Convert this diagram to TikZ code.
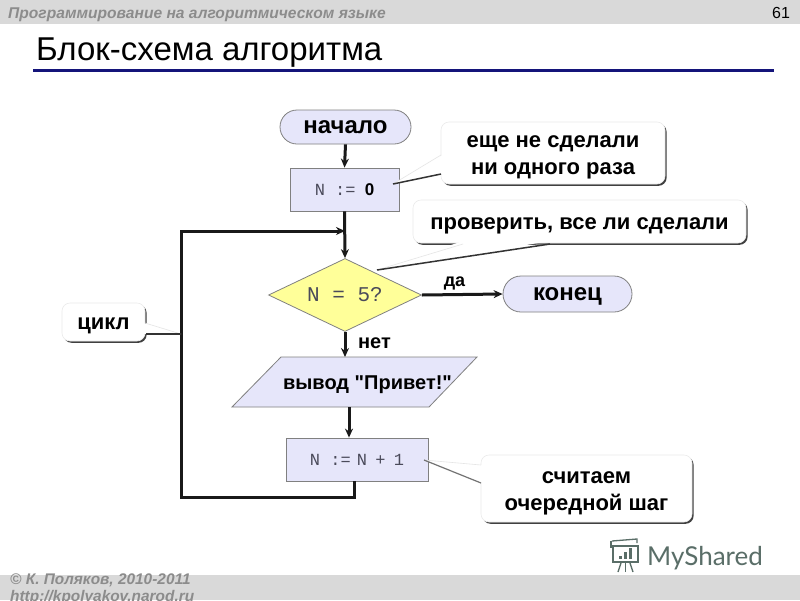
\documentclass[tikz,border=0pt]{standalone}
\usepackage{fontspec}
\setmainfont{Liberation Sans}
\newfontfamily\codefont{Liberation Mono}
\newfontfamily\logofont{Lato}
\newfontfamily\labelfont{Liberation Sans}
\usetikzlibrary{shapes.geometric,shapes.misc,shadows,arrows.meta}
\definecolor{boxfill}{HTML}{E6E6FA}
\definecolor{decfill}{HTML}{FFFF99}
\definecolor{band}{HTML}{D9D9D9}
\definecolor{bandtext}{HTML}{8C8C8C}
\definecolor{edgegray}{HTML}{808080}
\definecolor{titlerule}{HTML}{14147A}
\definecolor{codetext}{HTML}{4A4A5A}
\definecolor{logotext}{HTML}{5A6E68}
\tikzset{
  x=1pt,y=-1pt,
  lbl/.style={text=black,inner sep=0pt},
  pill/.style={rounded rectangle,draw=edgegray,line width=.8pt,fill=boxfill,inner sep=0pt,
     text height=12pt,text depth=0pt,
     font=\fontsize{24}{28}\selectfont\bfseries},
  procbox/.style={rectangle,draw=edgegray,line width=.8pt,fill=boxfill,inner sep=0pt,
     font=\codefont\fontsize{17}{20}\selectfont,text=codetext},
  decbox/.style={diamond,aspect=2.096,draw=edgegray,line width=.8pt,fill=decfill,inner sep=0pt,
     font=\codefont\fontsize{21}{24}\selectfont,text=codetext},
  notebox/.style={rectangle,rounded corners=8pt,draw=black!8,line width=.6pt,fill=white,inner sep=0pt,
     drop shadow={shadow xshift=1.6pt,shadow yshift=-1.8pt,fill=black!75,opacity=1}},
  notetext/.style={inner sep=0pt,align=center,font=\fontsize{22}{27.5}\selectfont\bfseries},
  flow/.style={line width=3pt,draw=black!90,-{Stealth[length=9pt,width=8pt]}},
  tipdark/.style={line width=1.5pt,draw=black!80},
  tiplight/.style={line width=.6pt,draw=black!10},
}
\begin{document}
\begin{tikzpicture}
\useasboundingbox (0,0) rectangle (800,600);
\clip (0,0) rectangle (800,600);
\fill[white] (0,0) rectangle (800,600);
% bands
\fill[band] (0,0) rectangle (800,24);
\fill[band] (0,575) rectangle (800,600);
\node[anchor=base west,inner sep=0pt,text=bandtext,font=\fontsize{15.6}{18}\selectfont\bfseries\itshape] (hdr) at (8,18) {Программирование на алгоритмическом языке};
\node[anchor=base,inner sep=0pt,font=\fontsize{16}{18}\selectfont] (pageno) at (781,18) {61};
\node[anchor=base west,inner sep=0pt,font=\fontsize{33}{36}\selectfont] (title) at (36,60) {Блок-схема алгоритма};
\draw[titlerule,line width=3pt] (33,70) -- (774,70);
\node[anchor=base west,inner sep=0pt,text=bandtext,font=\fontsize{15.4}{18}\selectfont\bfseries\itshape] (copy) at (10,584) {© К. Поляков, 2010-2011};
\node[anchor=base west,inner sep=0pt,text=bandtext,font=\fontsize{15.4}{18}\selectfont\bfseries\itshape] (url) at (10,601) {http://kpolyakov.narod.ru};
% watermark
\node[anchor=base west,inner sep=0pt,text=logotext,font=\logofont\fontsize{26}{30}\selectfont] (logo) at (647,565) {MyShared};
\begin{scope}[draw=logotext,line width=1.3pt,fill=logotext]
  \draw (612,541) -- (637,539) -- (637,543);
  \draw (611,541) -- (611,548);
  \draw (613,546) rectangle (638,562);
  \fill (619,556) rectangle (622,559);
  \fill (624,552) rectangle (627,559);
  \fill (629,548) rectangle (632,559);
  \draw (621,563) -- (618,572);
  \draw (625.5,563) -- (625.5,572);
  \draw (630,563) -- (633,572);
\end{scope}
% flowchart
\node[pill,minimum width=131pt,minimum height=34pt] (start) at (345.5,127) {начало};
\node[procbox,minimum width=109pt,minimum height=43pt] (init) at (344.5,189.5) {N :=\hspace{-1pt} {\rmfamily\bfseries\color{black} 0}};
\node[decbox,minimum width=153pt,minimum height=73pt] (test) at (345,295) {N = 5?};
\node[pill,minimum width=129pt,minimum height=36pt] (finish) at (567.5,294) {конец};
\path[draw=edgegray,line width=.8pt,fill=boxfill] (281,357) -- (477,357) -- (429,407) -- (232,407) -- cycle;
\node[lbl,font=\labelfont\fontsize{20}{24}\selectfont\bfseries] (output) at (367.5,385) {вывод "Привет!"};
\coordinate (outtop) at (345,357);
\coordinate (outbot) at (349,407);
\node[procbox,minimum width=142pt,minimum height=43pt] (step) at (357,459.5) {N :=\hspace{-4pt} N\hspace{-2pt} +\hspace{-2pt} 1};
\coordinate (join) at (345,231);
\coordinate (loopa) at (354,497);
\coordinate (loopb) at (181,497);
\coordinate (loopc) at (181,231);
% connectors
\draw[flow] (start.south) -- (init.north);
\draw[flow] (init.south) -- (test.north);
\draw[flow] (test.east) -- (finish.west);
\draw[flow] (test.south) -- (outtop);
\draw[flow] (outbot) -- (step.north -| outbot);
\draw[flow,line join=miter] (step.south -| loopa) -- (loopa) -- (loopb) -- (loopc) -- (join);
\node[lbl,font=\fontsize{18}{22}\selectfont\bfseries] (yes) at (454.5,283) {да};
\node[lbl,font=\fontsize{20}{24}\selectfont\bfseries] (no) at (374.5,343) {нет};
% callouts
\node[notebox,minimum width=224pt,minimum height=62pt] (n1) at (553,153) {};
\coordinate (t1) at (393,184);
\fill[white] (443,155) -- (t1) -- (443,174) -- cycle;
\draw[tiplight] (t1) -- (441,155);
\draw[tipdark] (t1) -- (441,174);
\node[notetext] (n1text) at (553,157.5) {еще не сделали\\ни одного раза};
\node[notebox,minimum width=333pt,minimum height=43pt] (n2) at (579.5,221.5) {};
\coordinate (t2) at (377,270);
\fill[white] (463,241) -- (t2) -- (550,241) -- cycle;
\fill[white] (463,246) -- (t2) -- (550,244.5) -- cycle;
\draw[tiplight] (t2) -- (463,244);
\draw[tipdark] (t2) -- (550,244);
\node[notetext] (n2text) at (579.5,225.5) {проверить, все ли сделали};
\node[notebox,minimum width=83pt,minimum height=38pt] (n3) at (103.5,322) {};
\coordinate (t3) at (181,334);
\fill[white] (143,323) -- (t3) -- (143,334) -- cycle;
\draw[tiplight] (t3) -- (145,323);
\draw[tipdark] (t3) -- (146,334);
\node[notetext] (n3text) at (103.5,326) {цикл};
\node[notebox,minimum width=211pt,minimum height=67pt] (n4) at (586.5,488.5) {};
\coordinate (t4) at (424,460);
\fill[white] (483,465) -- (t4) -- (483,483) -- cycle;
\draw[tiplight] (t4) -- (481,465);
\draw[line width=1.2pt,draw=black!55] (t4) -- (481,483);
\node[notetext] (n4text) at (586.5,493.5) {считаем\\очередной шаг};
\end{tikzpicture}
\end{document}
